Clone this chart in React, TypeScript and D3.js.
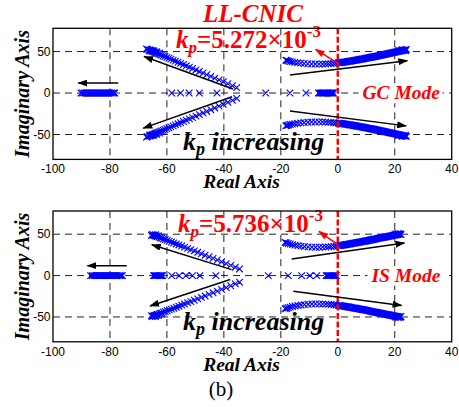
import React from "react"
import * as d3 from "d3"

const W = 459
const H = 407

const xTicks = [-100, -80, -60, -40, -20, 0, 20, 40]
const yTicks = [50, 0, -50]
const xGrid = [-80, -60, -40, -20, 20]

type Pt = [number, number]
type Arrow = [number, number, number, number]

// ---- top panel: GC mode, kp = 5.272e-3
const gcFarLeft = [
  -90.2, -89.6, -89, -88.4, -87.8, -87.2, -86.6, -86, -85.4, -84.8, -84.2,
  -83.6, -83, -82.4, -81.8, -81.2, -80.6, -80, -79.4, -78.8, -78.3,
]
const gcRealAxis = [
  -58.3, -55.2, -52.2, -48.6, -42.4, -25.3, -16.8, -11.2, -6.8, -6.3, -5.8,
  -5.4, -5, -4.6, -4.2, -3.8, -3.4, -3, -2.6, -2.2, -1.8, -1.5,
]
const gcUpperLeft: Pt[] = [
  [-35.5, 6.5], [-37, 8.8], [-38.6, 11.2], [-40.2, 13.6], [-41.7, 15.8],
  [-43.2, 18], [-44.6, 20.1], [-46, 22.2], [-47.3, 24.1], [-48.6, 26],
  [-49.8, 27.8], [-51, 29.6], [-52.1, 31.2], [-53.2, 32.8], [-54.2, 34.3],
  [-55.2, 35.8], [-56.1, 37.1], [-57, 38.4], [-57.8, 39.6], [-58.6, 40.8],
  [-59.3, 41.9], [-60, 42.9], [-60.7, 43.9], [-61.3, 44.8], [-61.9, 45.7],
  [-62.4, 46.5], [-62.9, 47.2], [-63.4, 47.9], [-63.8, 48.5], [-64.2, 49.1],
  [-64.6, 49.7], [-65, 50.2], [-65.3, 50.7], [-65.6, 51.1], [-65.9, 51.5],
  [-66.2, 51.9], [-66.8, 52.6], [-67.2, 53.1], [-64.8, 51.4], [-63.6, 49.9],
  [-66, 50.5], [-62.6, 48.3],
]
const gcUpperRight: Pt[] = [
  [-18.2, 39.5], [-17.8, 39], [-17.3, 38.5], [-16.7, 38], [-16, 37.5],
  [-15.1, 37], [-14.1, 36.5], [-13, 36], [-11.8, 35.6], [-10.5, 35.3],
  [-9.2, 35], [-7.9, 34.9], [-6.6, 34.8], [-5.4, 34.9], [-4.3, 35],
  [-3.3, 35.2], [-2.4, 35.4], [-1.5, 35.7], [-0.7, 36], [0.1, 36.3],
  [0.9, 36.6], [1.7, 37], [2.5, 37.4], [3.3, 37.8], [4.1, 38.3], [4.9, 38.7],
  [5.7, 39.2], [6.5, 39.7], [7.3, 40.2], [8.1, 40.7], [8.9, 41.2],
  [9.7, 41.7], [10.5, 42.3], [11.3, 42.8], [12.1, 43.4], [12.9, 43.9],
  [13.7, 44.5], [14.5, 45.1], [15.3, 45.7], [16.1, 46.3], [16.9, 46.9],
  [17.7, 47.5], [18.5, 48.1], [19.3, 48.7], [20.1, 49.3], [20.9, 49.9],
  [21.7, 50.5], [22.4, 51], [23.1, 51.5], [23.7, 51.9],
]
// the solid part of the right-hand band, read between the markers above
const gcUpperRightDense: Pt[] = [
  [0.5, 36.5], [1.3, 36.8], [2.1, 37.2], [2.9, 37.6], [3.7, 38.1], [4.5, 38.5],
  [5.3, 39], [6.1, 39.5], [6.9, 40], [7.7, 40.5], [8.5, 41], [9.3, 41.5],
  [10.1, 42], [10.9, 42.6], [11.7, 43.1], [12.5, 43.7], [13.3, 44.2],
  [14.1, 44.8], [14.9, 45.4], [15.7, 46], [16.5, 46.6], [17.3, 47.2],
  [18.1, 47.8], [18.9, 48.4], [19.7, 49], [20.5, 49.6], [21.3, 50.2],
  [22, 50.8], [22.8, 51.3], [23.4, 51.7], [22.6, 52.3], [23.8, 50.8],
  [21.4, 51.3], [24.1, 52.5],
]
const gcArrows: Arrow[] = [
  [-77.1, 12, -91.1, 12],
  [-36.8, 4.8, -68, 44],
  [-37.1, -4.5, -68.3, -42.3],
  [-16.8, 21.7, 24.4, 39],
  [-16.8, -21.7, 24, -39.6],
]
const gcRedArrow: Arrow = [0, 36, -7.8, 52.6]

// ---- bottom panel: IS mode, kp = 5.736e-3
const isFarLeft = [
  -86.8, -86.2, -85.6, -85, -84.4, -83.8, -83.2, -82.6, -82, -81.4, -80.8,
  -80.2, -79.6, -79, -78.4, -77.8, -77.2, -76.6, -76.1, -75.6,
]
const isRealAxis = [
  -64.7, -64.3, -63.9, -63.5, -63.1, -62.7, -62.3, -61.9, -61.5, -58.3,
  -55.7, -53.3, -51, -48.4, -42.8, -24.4, -17.4, -12.7, -9.8, -7.4, -4.1,
  -3.7, -3.3, -2.9, -2.5, -2.1, -1.7, -1.3, -0.9, -0.5,
]
const isUpperLeft: Pt[] = [
  [-34.5, 8], [-36, 10.1], [-37.6, 12.3], [-39.2, 14.5], [-40.8, 16.7],
  [-42.3, 18.8], [-43.8, 20.8], [-45.2, 22.7], [-46.6, 24.6], [-47.9, 26.4],
  [-49.2, 28.1], [-50.4, 29.8], [-51.6, 31.4], [-52.7, 32.9], [-53.8, 34.4],
  [-54.8, 35.7], [-55.8, 37], [-56.7, 38.2], [-57.6, 39.4], [-58.4, 40.5],
  [-59.2, 41.5], [-59.9, 42.5], [-60.6, 43.4], [-61.2, 44.2], [-61.8, 45],
  [-62.3, 45.7], [-62.8, 46.4], [-63.3, 47], [-63.7, 47.6], [-64.1, 48.1],
  [-64.5, 48.6], [-64.8, 49], [-65.2, 49.6], [-64, 49.4], [-63, 48.2],
  [-65.4, 48.4], [-62, 46.6],
]
const isUpperRight: Pt[] = [
  [-18.5, 40], [-18, 39.4], [-17.4, 38.8], [-16.7, 38.1], [-15.9, 37.4],
  [-15, 36.8], [-14, 36.2], [-12.9, 35.6], [-11.7, 35.1], [-10.4, 34.7],
  [-9.1, 34.4], [-7.8, 34.2], [-6.5, 34.2], [-5.3, 34.3], [-4.2, 34.5],
  [-3.2, 34.7], [-2.3, 35], [-1.4, 35.3], [-0.6, 35.6], [0.2, 36], [1, 36.4],
  [1.8, 36.8], [2.6, 37.2], [3.4, 37.7], [4.2, 38.2], [5, 38.7], [5.8, 39.2],
  [6.6, 39.7], [7.4, 40.2], [8.2, 40.7], [9, 41.3], [9.8, 41.8], [10.6, 42.4],
  [11.4, 42.9], [12.2, 43.5], [13, 44.1], [13.8, 44.6], [14.6, 45.2],
  [15.4, 45.8], [16.2, 46.3], [17, 46.9], [17.8, 47.4], [18.6, 48],
  [19.4, 48.5], [20.1, 49], [20.8, 49.5], [21.4, 49.9], [22, 50.3],
]
const isUpperRightDense: Pt[] = [
  [0.6, 36.2], [1.4, 36.6], [2.2, 37], [3, 37.5], [3.8, 38], [4.6, 38.5],
  [5.4, 39], [6.2, 39.5], [7, 40], [7.8, 40.5], [8.6, 41], [9.4, 41.5],
  [10.2, 42.1], [11, 42.6], [11.8, 43.2], [12.6, 43.8], [13.4, 44.3],
  [14.2, 44.9], [15, 45.5], [15.8, 46], [16.6, 46.6], [17.4, 47.1],
  [18.2, 47.7], [19, 48.2], [19.8, 48.8], [20.5, 49.3], [21.1, 49.7],
  [21.7, 50.1], [21.2, 50.8], [22.2, 49.4], [20.4, 50.3],
]
const isArrows: Arrow[] = [
  [-74.1, 12, -87.9, 12],
  [-37.3, 7.2, -65.3, 37.3],
  [-37.8, -4.8, -65.9, -36.7],
  [-16.2, 20.1, 23.4, 39.4],
  [-15.6, -18.9, 22.4, -36.1],
]
const isRedArrow: Arrow = [0, 37.3, -6.6, 53.3]

const serif = "'Liberation Serif', 'Times New Roman', serif"
const sans = "'Liberation Sans', Arial, sans-serif"

const conj = (pts: Pt[]): Pt[] => pts.map(([re, im]) => [re, -im] as Pt)

const Panel = ({
  top, bottom, farLeft, realAxis, upperLeft, upperRight, arrows, redArrow,
  kpValue, kpX, kpY, incY, mode, modeX, modeY, modeW,
}: any) => {
  const x = d3.scaleLinear().domain([-100, 40]).range([53, 451.7])
  const y = d3.scaleLinear().domain([-80, 78]).range([bottom, top])
  const s = 3.3

  const poles: Pt[] = [
    ...[...farLeft, ...realAxis].map((r: number) => [r, 0] as Pt),
    ...upperLeft, ...conj(upperLeft), ...upperRight, ...conj(upperRight),
  ]
  const crossPath = poles
    .map(([re, im]) => {
      const cx = x(re)
      const cy = y(im)
      return `M${cx - s},${cy - s}L${cx + s},${cy + s}M${cx - s},${cy + s}L${cx + s},${cy - s}`
    })
    .join("")

  return (
    <g>
      {xGrid.map((v) => (
        <line key={"gx" + v} x1={x(v)} x2={x(v)} y1={y(78)} y2={y(-80)}
          stroke="#222" strokeWidth={1} strokeDasharray="7,5" />
      ))}
      {yTicks.map((v) => (
        <line key={"gy" + v} x1={x(-100)} x2={x(40)} y1={y(v)} y2={y(v)}
          stroke="#222" strokeWidth={1} strokeDasharray="7,5" />
      ))}
      <path d={crossPath} fill="none" stroke="#0000ff" strokeWidth={1.1} />
      <line x1={x(0)} x2={x(0)} y1={y(78)} y2={y(-80)} stroke="#ff0000"
        strokeWidth={2.5} strokeDasharray="6,2.5" />
      {arrows.map((a: Arrow, i: number) => (
        <line key={"a" + i} x1={x(a[0])} y1={y(a[1])} x2={x(a[2])} y2={y(a[3])}
          stroke="#000" strokeWidth={1.5} markerEnd="url(#ahBlack)" />
      ))}
      <line x1={x(redArrow[0])} y1={y(redArrow[1])} x2={x(redArrow[2])} y2={y(redArrow[3])}
        stroke="#ff0000" strokeWidth={1.5} markerEnd="url(#ahRed)" />
      <text x={kpX} y={kpY} fill="#ff0000" fontFamily={serif} fontWeight="bold" fontSize={25}>
        <tspan fontStyle="italic">k</tspan>
        <tspan fontStyle="italic" fontSize={17} dy={5}>p</tspan>
        <tspan dy={-5}>{"=" + kpValue + "×10"}</tspan>
        <tspan fontSize={17} dy={-11}>-3</tspan>
      </text>
      <text x={183} y={incY} fill="#000" fontFamily={serif} fontWeight="bold"
        fontStyle="italic" fontSize={26}>
        k<tspan fontSize={18} dy={5}>p</tspan>
        <tspan dy={-5}>{" increasing"}</tspan>
      </text>
      <rect x={modeX - 4} y={modeY - 15} width={modeW + 8} height={19} fill="#fff" />
      <text x={modeX} y={modeY} fill="#ff0000" fontFamily={serif} fontStyle="italic"
        fontWeight="bold" fontSize={19.5}>{mode}</text>
      <rect x={x(-100)} y={y(78)} width={x(40) - x(-100)} height={y(-80) - y(78)}
        fill="none" stroke="#000" strokeWidth={1.3} />
      {xTicks.map((v) => (
        <text key={"tx" + v} x={x(v)} y={bottom + 14} textAnchor="middle"
          fontFamily={sans} fontSize={12} fill="#000">{v}</text>
      ))}
      {yTicks.map((v) => (
        <text key={"ty" + v} x={50.5} y={y(v)} dy="0.35em" textAnchor="end"
          fontFamily={sans} fontSize={12} fill="#000">{v}</text>
      ))}
      <text x={241.5} y={bottom + 29} textAnchor="middle" fontFamily={serif}
        fontWeight="bold" fontStyle="italic" fontSize={19.5}>Real Axis</text>
      <text transform={`translate(29,${(top + bottom) / 2}) rotate(-90)`} textAnchor="middle"
        fontFamily={serif} fontWeight="bold" fontStyle="italic" fontSize={20}>Imaginary Axis</text>
    </g>
  )
}

export default function App() {
  return (
    <svg width={W} height={H} style={{ position: "absolute", left: 0, top: 0, background: "#fff" }}>
      <defs>
        <marker id="ahBlack" viewBox="0 0 10 7" refX={9} refY={3.5} markerWidth={10}
          markerHeight={7} markerUnits="userSpaceOnUse" orient="auto">
          <path d="M0,0L10,3.5L0,7z" fill="#000" />
        </marker>
        <marker id="ahRed" viewBox="0 0 10 7" refX={9} refY={3.5} markerWidth={10}
          markerHeight={7} markerUnits="userSpaceOnUse" orient="auto">
          <path d="M0,0L10,3.5L0,7z" fill="#ff0000" />
        </marker>
      </defs>
      <text x={253} y={21.5} textAnchor="middle" fill="#ff0000" fontFamily={serif}
        fontWeight="bold" fontStyle="italic" fontSize={25}>LL-CNIC</text>
      <Panel top={28.3} bottom={159.4} farLeft={gcFarLeft} realAxis={gcRealAxis}
        upperLeft={gcUpperLeft} upperRight={[...gcUpperRight, ...gcUpperRightDense]}
        arrows={gcArrows} redArrow={gcRedArrow} kpValue="5.272" kpX={176} kpY={48}
        incY={150} mode="GC Mode" modeX={362.5} modeY={99.3} modeW={76} />
      <Panel top={211} bottom={341.8} farLeft={isFarLeft} realAxis={isRealAxis}
        upperLeft={isUpperLeft} upperRight={[...isUpperRight, ...isUpperRightDense]}
        arrows={isArrows} redArrow={isRedArrow} kpValue="5.736" kpX={178} kpY={231.5}
        incY={330} mode="IS Mode" modeX={371.5} modeY={281.5} modeW={69} />
      <text x={221} y={396} textAnchor="middle" fontFamily={serif} fontSize={21}
        fill="#000">(b)</text>
    </svg>
  )
}
